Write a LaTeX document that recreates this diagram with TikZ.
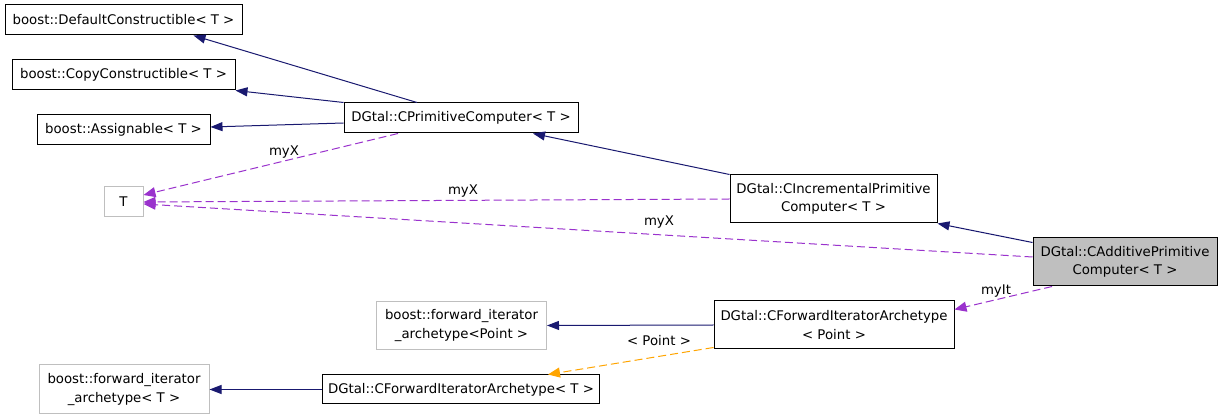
\documentclass[tikz,border=0pt]{standalone}
\usepackage{fontspec}
\setmainfont{DejaVu Sans}
\usepackage{tikz}
\usetikzlibrary{arrows.meta,positioning,calc}
\definecolor{inhblue}{HTML}{191970}
\definecolor{usepurple}{HTML}{9A32CD}
\definecolor{tplorange}{HTML}{FFA500}
\definecolor{extgray}{HTML}{BFBFBF}
\tikzset{
  cls/.style={draw=black,fill=white,line width=1pt,inner sep=0pt,align=center,
    font=\fontsize{13.3}{18.5}\selectfont},
  extcls/.style={cls,draw=extgray},
  inh/.style={draw=inhblue,line width=1pt,-{Triangle[length=12pt,width=9pt]}},
  usage/.style={draw=usepurple,line width=1pt,dash pattern=on 8pt off 4pt,-{Triangle[length=12pt,width=10pt]}},
  tpl/.style={usage,draw=tplorange},
  lbl/.style={font=\fontsize{13.3}{15}\selectfont,inner sep=0pt}
}
\begin{document}
\begin{tikzpicture}[x=1pt,y=-1pt]
\useasboundingbox[fill=white] (0,0) rectangle (1224,419);
% classes
\node[cls,minimum width=237pt,minimum height=30pt] (dc) at (123.5,20) {boost::DefaultConstructible< T >};
\node[cls,minimum width=223pt,minimum height=30pt] (cc) at (123.5,75) {boost::CopyConstructible< T >};
\node[cls,minimum width=173pt,minimum height=30pt] (as) at (123.5,130) {boost::Assignable< T >};
\node[cls,minimum width=234pt,minimum height=30pt] (cpc) at (461,118) {DGtal::CPrimitiveComputer< T >};
\node[extcls,minimum width=39pt,minimum height=30pt] (tt) at (123.5,202) {T};
\node[cls,minimum width=207pt,minimum height=48pt] (cic) at (833.5,199) {DGtal::CIncrementalPrimitive\\Computer< T >};
\node[cls,fill=extgray,minimum width=184pt,minimum height=48pt] (cap) at (1125,262) {DGtal::CAdditivePrimitive\\Computer< T >};
\node[extcls,minimum width=170pt,minimum height=48pt] (bfp) at (461.5,325.5) {boost::forward\_iterator\\\_archetype<Point >};
\node[cls,minimum width=240pt,minimum height=48pt] (cfp) at (834,325) {DGtal::CForwardIteratorArchetype\\< Point >};
\node[extcls,minimum width=170pt,minimum height=49pt] (bft) at (124,389.5) {boost::forward\_iterator\\\_archetype< T >};
\node[cls,minimum width=277pt,minimum height=29pt] (cft) at (461,389.5) {DGtal::CForwardIteratorArchetype< T >};
% inheritance
\draw[inh] ([xshift=-44pt]cpc.north) -- ([xshift=70pt]dc.south);
\draw[inh] (cpc.north west) -- (cc.south east);
\draw[inh] ([yshift=-5pt]cpc.west) -- ([yshift=3pt]as.east);
\draw[inh] (cic.north west) -- ([xshift=72pt]cpc.south);
\draw[inh] ([yshift=-5pt]cap.north west) -- (cic.south east);
\draw[inh] (cfp.west) -- (bfp.east);
\draw[inh] (cft.west) -- (bft.east);
% members
\draw[usage] ([xshift=-63pt]cpc.south) -- ([yshift=7pt]tt.east);
\draw[usage] (cic.west) -- (tt.east);
\draw[usage] ([yshift=5pt]cap.west) -- ([yshift=-2pt]tt.east);
\draw[usage] ([xshift=-73pt]cap.south) -- ([yshift=-9pt]cfp.north east);
\draw[tpl] ([yshift=2pt]cfp.south west) -- ([xshift=87pt]cft.north);
% labels
\node[lbl] (lx1) at (284,152) {myX};
\node[lbl] (lx2) at (463,191) {myX};
\node[lbl] (lx3) at (659,222) {myX};
\node[lbl] (lit) at (996,291) {myIt};
\node[lbl] (lpt) at (659,341) {< Point >};
\end{tikzpicture}
\end{document}
